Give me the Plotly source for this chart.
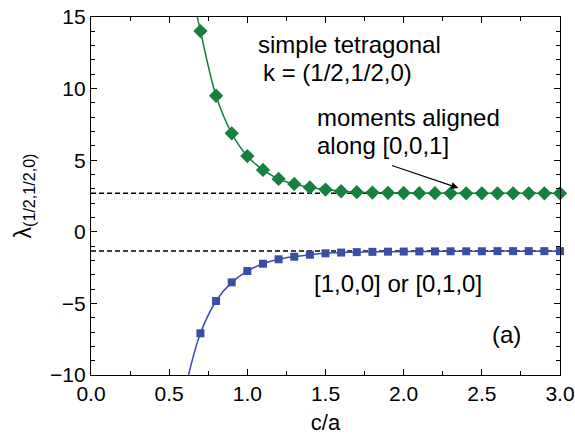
import plotly.graph_objects as go

# ---- data ----
ca = [0.7, 0.8, 0.9, 1.0, 1.1, 1.2, 1.3, 1.4, 1.5, 1.6, 1.7, 1.8,
      1.9, 2.0, 2.1, 2.2, 2.3, 2.4, 2.5, 2.6, 2.7, 2.8, 2.9, 3.0]
lam_001 = [14.02, 9.50, 6.88, 5.29, 4.32, 3.69, 3.34, 3.10, 2.95, 2.83, 2.77, 2.74,
           2.72, 2.71, 2.70, 2.70, 2.69, 2.69, 2.69, 2.69, 2.69, 2.69, 2.69, 2.69]
lam_100 = [-7.09, -4.83, -3.53, -2.74, -2.23, -1.92, -1.74, -1.60, -1.50, -1.45, -1.42, -1.40,
           -1.39, -1.38, -1.37, -1.37, -1.36, -1.36, -1.36, -1.35, -1.35, -1.35, -1.35, -1.35]
# continuation of the fitted curves beyond the plotted range
ext_ca_001 = [0.66]
ext_lam_001 = [16.0]
ext_ca_100 = [0.615]
ext_lam_100 = [-10.4]
asymptotes = [2.69, -1.34]

green = "#15803f"
blue = "#3a4ea6"
FONT = "Arial, Liberation Sans, sans-serif"
FS = 21
AFS = 24

fig = go.Figure()
fig.add_trace(go.Scatter(x=ext_ca_001 + ca, y=ext_lam_001 + lam_001, mode="lines",
                         line=dict(color=green, width=1.5, shape="spline"),
                         showlegend=False, hoverinfo="skip"))
fig.add_trace(go.Scatter(x=ext_ca_100 + ca, y=ext_lam_100 + lam_100, mode="lines",
                         line=dict(color=blue, width=1.5, shape="spline"),
                         showlegend=False, hoverinfo="skip"))
fig.add_trace(go.Scatter(x=ca, y=lam_001, mode="markers",
                         marker=dict(symbol="diamond", size=11, color=green),
                         cliponaxis=False, showlegend=False))
fig.add_trace(go.Scatter(x=ca, y=lam_100, mode="markers",
                         marker=dict(symbol="square", size=8, color=blue),
                         cliponaxis=False, showlegend=False))

for lv in asymptotes:
    fig.add_shape(type="line", xref="x", yref="y", x0=0, x1=3, y0=lv, y1=lv,
                  line=dict(color="black", width=1.5, dash="5px,3px"), layer="below")

tfont = dict(family=FONT, size=AFS, color="black")
fig.add_annotation(x=1.055, y=13.05, text="simple tetragonal", showarrow=False,
                   xanchor="left", yanchor="middle", font=tfont)
fig.add_annotation(x=1.09, y=11.1, text="k = (1/2,1/2,0)", showarrow=False,
                   xanchor="left", yanchor="middle", font=tfont)
fig.add_annotation(x=1.435, y=7.95, text="moments aligned", showarrow=False,
                   xanchor="left", yanchor="middle", font=tfont)
fig.add_annotation(x=1.435, y=6.0, text="along [0,0,1]", showarrow=False,
                   xanchor="left", yanchor="middle", font=tfont)
fig.add_annotation(x=2.35, y=3.06, ax=-68, ay=-23, text="", showarrow=True,
                   arrowhead=2, arrowsize=1.3, arrowwidth=1.1, arrowcolor="black")
fig.add_annotation(x=1.415, y=-3.58, text="[1,0,0] or [0,1,0]", showarrow=False,
                   xanchor="left", yanchor="middle", font=tfont)
fig.add_annotation(x=2.55, y=-7.2, text="(a)", showarrow=False,
                   xanchor="left", yanchor="middle", font=tfont)

axis_common = dict(showgrid=False, zeroline=False, showline=True, linecolor="black",
                   linewidth=1.2, mirror="allticks", ticks="inside", ticklen=6,
                   tickwidth=1, tickcolor="black", automargin=False,
                   tickfont=dict(family=FONT, size=FS, color="black"))
fig.update_xaxes(range=[0, 3], dtick=0.5, tick0=0, tickformat=".1f",
                 minor=dict(dtick=0.25, ticks="inside", ticklen=4, tickcolor="black"),
                 title=dict(text="c/a", font=dict(family=FONT, size=22), standoff=10),
                 **axis_common)
fig.update_yaxes(range=[-10, 15], dtick=5, tick0=0,
                 minor=dict(dtick=1, ticks="inside", ticklen=4, tickcolor="black"),
                 title=dict(text="λ<sub>(1/2,1/2,0)</sub>", font=dict(family=FONT, size=23),
                            standoff=12),
                 **axis_common)

fig.update_layout(width=575, height=438, margin=dict(l=91, r=15, t=17, b=63),
                  plot_bgcolor="white", paper_bgcolor="white",
                  font=dict(family=FONT, size=FS, color="black"))

fig.write_html("out.html")
